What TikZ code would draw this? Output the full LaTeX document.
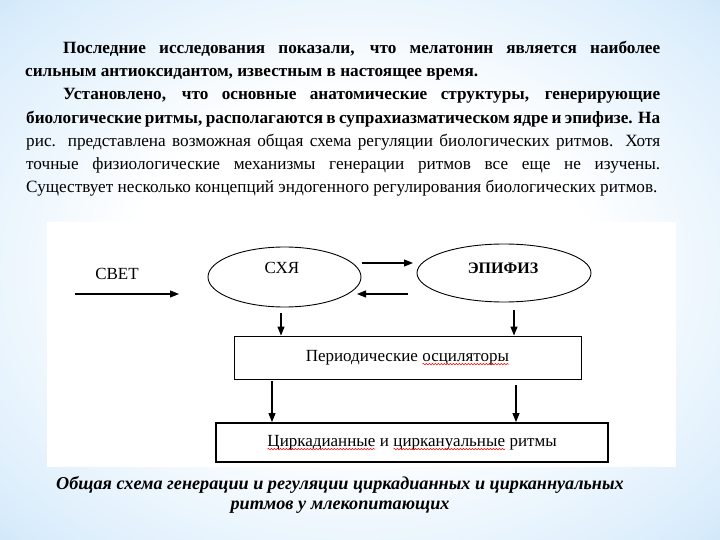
\documentclass[tikz,border=0pt]{standalone}
\usepackage{fontspec}
\setmainfont{Liberation Serif}
\usetikzlibrary{arrows.meta,decorations.pathmorphing,shapes.geometric}
\definecolor{bgblue}{RGB}{165,209,243}
\definecolor{bgmid}{RGB}{220,238,252}
\pgfdeclareradialshading{glow}{\pgfpoint{0bp}{0bp}}{color(0bp)=(white); color(16bp)=(white); color(32bp)=(bgmid); color(50bp)=(bgblue)}
\newcommand\spellerr[1]{\tikz[baseline=(sq.base)]{\node[draw=none,fill=none,inner sep=0pt,outer sep=0pt,minimum width=0pt,minimum height=0pt,line width=0.4pt] (sq) {#1};\draw[red,line width=0.5bp,decorate,decoration={snake,segment length=3bp,amplitude=0.7bp}] ([yshift=-3bp]sq.base west) -- ([yshift=-3bp]sq.base east);}}
\begin{document}
\begin{tikzpicture}[x=1bp,y=-1bp,
  arr/.style={line width=1.1bp,-{Triangle[length=9bp,width=7bp]}},
  ell/.style={draw,ellipse,line width=0.9bp,inner sep=0pt},
  bodyb/.style={anchor=base west,inner sep=0pt,font=\fontsize{17.2bp}{20bp}\selectfont\bfseries},
  bodyr/.style={anchor=base west,inner sep=0pt,font=\fontsize{17.2bp}{20bp}\selectfont},
  dtext/.style={inner sep=0pt,font=\fontsize{17bp}{20bp}\selectfont},
  capt/.style={inner sep=0pt,font=\fontsize{18.2bp}{20bp}\selectfont\bfseries\itshape}]
\useasboundingbox (0,0) rectangle (720,540);
\shade[shading=glow] (0,0) rectangle (720,540);
% text
\node[bodyb] (l1) at (63,54) {\makebox[597bp][s]{Последние исследования показали, что мелатонин является наиболее}};
\node[bodyb] (l2) at (25,77) {сильным антиоксидантом, известным в настоящее время.};
\node[bodyb] (l3) at (63,100) {\makebox[597bp][s]{Установлено, что основные анатомические структуры, генерирующие}};
\node[bodyb] (l4) at (26,124) {\makebox[634bp][s]{биологические ритмы, располагаются в супрахиазматическом ядре и эпифизе. На}};
\node[bodyr] (l5) at (26,147) {\makebox[634bp][s]{рис. представлена возможная общая схема регуляции биологических ритмов. Хотя}};
\node[bodyr] (l6) at (26,170) {\makebox[634bp][s]{точные физиологические механизмы генерации ритмов все еще не изучены.}};
\node[bodyr] (l7) at (26,193) {Существует несколько концепций эндогенного регулирования биологических ритмов.};
% diagram panel
\fill[white] (47,222) rectangle (676,467);
\node[ell,minimum width=153bp,minimum height=60bp] (sxa) at (284.5,277) {};
\node[dtext] (sxat) at (282,268) {СХЯ};
\node[ell,minimum width=174bp,minimum height=58bp] (epi) at (504,273) {};
\node[dtext,font=\fontsize{16bp}{20bp}\selectfont\bfseries] (epit) at (503,268) {ЭПИФИЗ};
\node[dtext] (svet) at (117,274) {СВЕТ};
\coordinate (sv1) at (75,294);
\coordinate (sv2) at (179,294);
\draw[arr] (sv1) -- (sv2);
\coordinate (u1) at (362,263);
\coordinate (u2) at (413,263);
\draw[arr] (u1) -- (u2);
\coordinate (d1) at (408,294);
\coordinate (d2) at (357,294);
\draw[arr] (d1) -- (d2);
\node[draw,line width=0.9bp,minimum width=347bp,minimum height=43bp,inner sep=0pt,font=\fontsize{17bp}{20bp}\selectfont] (osc) at (407.5,357.5) {Периодические \spellerr{осциляторы}};
\coordinate (a1) at (281,313);
\coordinate (a2) at (514,310);
\draw[arr] (a1) -- (a1 |- osc.north);
\draw[arr] (a2) -- (a2 |- osc.north);
\node[draw,line width=1.8bp,minimum width=392bp,minimum height=39bp,inner sep=0pt,font=\fontsize{17bp}{20bp}\selectfont] (circ) at (412,442.5) {\spellerr{Циркадианные} и \spellerr{циркануальные} ритмы};
\coordinate (b1) at (272,381);
\coordinate (b2) at (516,385);
\draw[arr] (b1) -- (b1 |- circ.north);
\draw[arr] (b2) -- (b2 |- circ.north);
% caption
\node[capt] (cap1) at (340,485) {Общая схема генерации и регуляции циркадианных и цирканнуальных};
\node[capt] (cap2) at (340,507) {ритмов у млекопитающих};
\end{tikzpicture}
\end{document}
